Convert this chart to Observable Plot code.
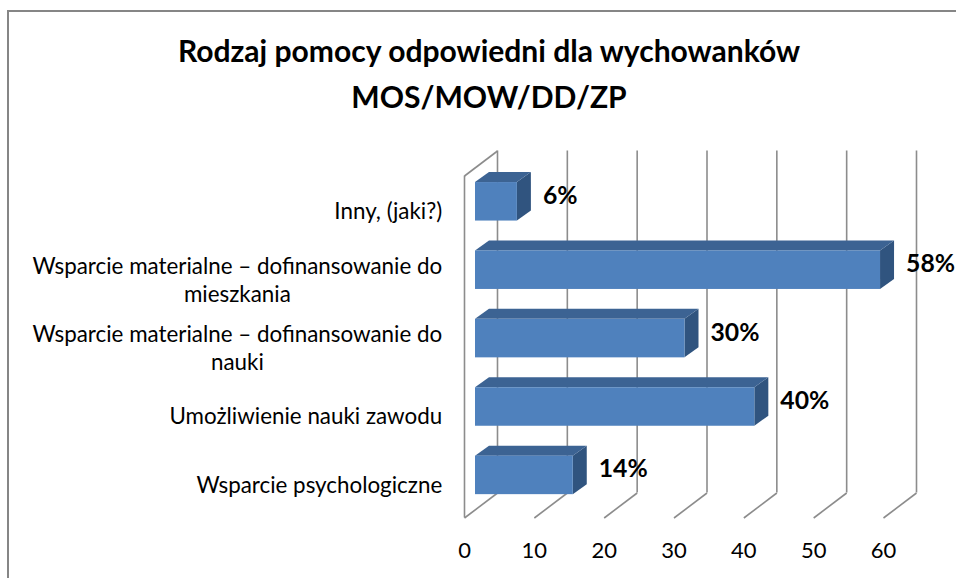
<!DOCTYPE html>
<html><head><meta charset="utf-8">
<script src="https://cdn.jsdelivr.net/npm/d3@7"></script>
<script src="https://cdn.jsdelivr.net/npm/@observablehq/plot@0.6"></script>
<style>
html,body{margin:0;padding:0;background:#fff;overflow:hidden}
#wrap{position:relative;width:956px;height:578px;overflow:hidden;background:#fff}
#frame{position:absolute;left:7px;top:10px;width:1000px;height:700px;border:2px solid #868686;box-sizing:border-box}
.title{position:absolute;left:0;width:978px;text-align:center;font-weight:bold;color:#000;white-space:nowrap}
#plot{position:absolute;left:0;top:0}
</style></head>
<body><div id="wrap"><div id="frame"></div><div id="t1" class="title"></div><div id="t2" class="title"></div><div id="plot"></div></div>
<script>
const titleLines = ["Rodzaj pomocy odpowiedni dla wychowanków", "MOS/MOW/DD/ZP"];
const categories = [
  "Inny, (jaki?)",
  "Wsparcie materialne – dofinansowanie do\nmieszkania",
  "Wsparcie materialne – dofinansowanie do\nnauki",
  "Umożliwienie nauki zawodu",
  "Wsparcie psychologiczne"
];
const values = [6, 58, 30, 40, 14];
const xTicks = [0, 10, 20, 30, 40, 50, 60];

const FONT = "Lato";
const ctx = document.createElement("canvas").getContext("2d");
function measure(text, weight, size) { ctx.font = `${weight} ${size}px ${FONT}`; return ctx.measureText(text).width; }
function fit(text, weight, target) { return 100 * target / measure(text, weight, 100); }

// sizes fitted to reference text widths
const titleSize = fit(titleLines[0], "bold", 624);
const catSize = fit("Wsparcie materialne – dofinansowanie do", "normal", 410);
const tickSize = 22;
const valSize = fit("14%", "bold", 49);

// title
const t1 = document.getElementById("t1"), t2 = document.getElementById("t2");
[t1, t2].forEach((el, k) => {
  el.textContent = titleLines[k];
  el.style.fontFamily = FONT;
  el.style.fontSize = titleSize + "px";
  el.style.lineHeight = titleSize + "px";
  const baseline = k === 0 ? 61.7 : 107.3;
  el.style.top = (baseline - 0.887 * titleSize) + "px";
});

// layout
const W = 956, H = 578, mL = 464, mR = 73, mT = 175.5, mB = 60.5;
const xMax = 60, nCat = categories.length;
const pxX = (W - mL - mR) / xMax;
const pxY = (H - mT - mB) / nCat;
// 3D offsets (pixels)
const wallDX = 33, wallDY = 25;           // depth of walls/floor
const barFX = 11, barFY = 8.4;            // bar front plane offset
const barDX = 14, barDY = 10;             // bar depth
const barHalf = 19.25;                    // half height of bar front face

const rows = categories.map((c, k) => ({cat: c, value: values[k], i: nCat - 1 - k}));
const hU = barHalf / pxY, bdx = barDX / pxX, bdy = barDY / pxY;
const topPts = rows.flatMap(r => [
  {k: r.i, y: r.i + 0.5 + hU, x1: 0, x2: r.value},
  {k: r.i, y: r.i + 0.5 + hU + bdy, x1: bdx, x2: r.value + bdx}
]);
const sidePts = rows.flatMap(r => [
  {k: r.i, x: r.value, y1: r.i + 0.5 - hU, y2: r.i + 0.5 + hU},
  {k: r.i, x: r.value + bdx, y1: r.i + 0.5 - hU + bdy, y2: r.i + 0.5 + hU + bdy}
]);
const wdx = wallDX / pxX, wdy = wallDY / pxY;
const catGap = 22.3;
const maxLine = s => Math.max(...s.split("\n").map(l => measure(l, "normal", catSize)));

const grid = {stroke: "#8c8c8c", strokeWidth: 1.6};
const chart = Plot.plot({
  width: W, height: H,
  marginLeft: mL, marginRight: mR, marginTop: mT, marginBottom: mB,
  style: {background: "transparent", overflow: "visible"},
  x: {domain: [0, xMax], axis: null},
  y: {domain: [0, nCat], axis: null},
  marks: [
    Plot.ruleX(xTicks, {x: d => d, y1: 0, y2: nCat, dx: wallDX, dy: -wallDY, ...grid}),
    Plot.link(xTicks, {x1: d => d, y1: 0, x2: d => d + wdx, y2: wdy, ...grid}),
    Plot.ruleX([0], {x: d => d, y1: 0, y2: nCat, ...grid}),
    Plot.link([0], {x1: d => d, y1: nCat, x2: d => d + wdx, y2: nCat + wdy, ...grid}),
    Plot.areaY(sidePts, {x: "x", y1: "y1", y2: "y2", z: "k", fill: "#30547f", dx: barFX, dy: -barFY}),
    Plot.areaX(topPts, {y: "y", x1: "x1", x2: "x2", z: "k", fill: "#3c6393", dx: barFX, dy: -barFY}),
    Plot.rect(rows, {x1: 0, x2: "value", y1: d => d.i + 0.5 - hU, y2: d => d.i + 0.5 + hU, fill: "#4f81bd", dx: barFX, dy: -barFY}),
    Plot.text(rows, {x: "value", y: d => d.i + 0.5, text: d => d.value + "%", textAnchor: "start", lineAnchor: "middle",
      dx: barFX + 25.5, dy: -barFY - 6, fontSize: valSize, fontWeight: "bold", fontFamily: FONT, fill: "#000"}),
    Plot.text(rows, {x: d => -(catGap + maxLine(d.cat) / 2) / pxX, y: d => d.i + 0.5, text: "cat", textAnchor: "middle",
      lineAnchor: "middle", lineHeight: 28 / catSize, fontSize: catSize, fontFamily: FONT, fill: "#000"}),
    Plot.text(xTicks, {x: d => d, y: 0, text: d => String(d), dy: 32.5, lineAnchor: "middle", textAnchor: "middle",
      fontSize: tickSize, fontFamily: FONT, fill: "#000"})
  ]
});
document.getElementById("plot").appendChild(chart);
</script>
</body></html>
